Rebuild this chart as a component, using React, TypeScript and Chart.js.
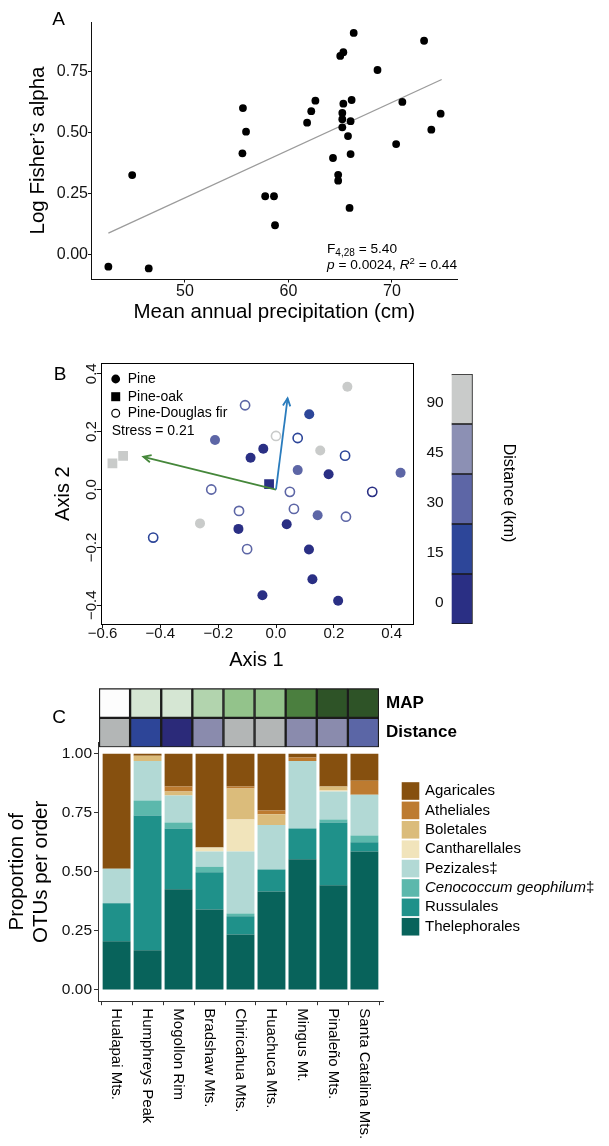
import React, { useEffect, useRef } from 'react';
import { Chart, registerables } from 'chart.js';

Chart.register(...registerables);

const FONT = '"Liberation Sans", Arial, Helvetica, sans-serif';
Chart.defaults.font.family = FONT;
Chart.defaults.color = '#111';

// ---------------- Panel A ----------------
const A_PRECIP = [66.3, 73.1, 65.3, 65.0, 68.6, 55.6, 62.6, 62.2, 65.3, 66.1, 71.0, 74.7, 65.2, 65.2, 61.8, 66.0, 65.2, 55.9, 73.8, 65.75, 70.4, 55.55, 64.3, 66.0, 44.9, 64.8, 64.8, 57.75, 58.6, 65.9, 58.7, 42.6, 46.5];
const A_LOG_ALPHA = [0.909, 0.877, 0.83, 0.815, 0.757, 0.601, 0.631, 0.588, 0.619, 0.634, 0.626, 0.578, 0.581, 0.555, 0.541, 0.547, 0.522, 0.504, 0.512, 0.486, 0.453, 0.415, 0.396, 0.412, 0.326, 0.327, 0.303, 0.239, 0.239, 0.191, 0.12, -0.05, -0.057];
const A_FIT_PRECIP = [42.6, 74.8];
const A_FIT_ALPHA = [0.088, 0.718];
const A_X_TICKS = [50, 60, 70];
const A_Y_TICKS = [0, 0.25, 0.5, 0.75];
const A_F_DF = '4,28';
const A_F_VALUE = '5.40';
const A_P_VALUE = '0.0024';
const A_R2 = '0.44';

// ---------------- Panel B ----------------
const B_AXIS1 = [0.247, -0.107, 0.115, -0.211, 0.0, 0.075, -0.044, -0.088, 0.153, 0.239, 0.075, 0.182, 0.431, -0.224, -0.024, 0.048, 0.333, -0.566, -0.529, -0.128, 0.062, 0.144, 0.242, -0.263, -0.13, 0.037, -0.425, -0.1, 0.114, 0.126, -0.047, 0.215];
const B_AXIS2 = [0.355, 0.291, 0.26, 0.171, 0.185, 0.178, 0.141, 0.11, 0.135, 0.117, 0.067, 0.053, 0.058, 0.0, 0.019, -0.008, -0.008, 0.09, 0.116, -0.074, -0.067, -0.089, -0.094, -0.117, -0.136, -0.12, -0.166, -0.206, -0.207, -0.31, -0.365, -0.384];
// 0 = Pine, 1 = Pine-oak, 2 = Pine-Douglas fir
const B_FOREST = [0, 2, 0, 0, 2, 2, 0, 0, 0, 2, 0, 0, 0, 2, 1, 2, 2, 1, 1, 2, 2, 0, 2, 0, 0, 0, 2, 2, 0, 0, 0, 0];
// index into DIST_LABELS
const B_DIST = [4, 2, 1, 2, 4, 1, 0, 0, 4, 1, 2, 0, 2, 2, 0, 2, 0, 4, 4, 2, 2, 2, 2, 4, 0, 0, 1, 2, 0, 0, 0, 0];
const FOREST_TYPES = ['Pine', 'Pine-oak', 'Pine-Douglas fir'];
const DIST_LABELS = ['0', '15', '30', '45', '90'];
const DIST_COLORS = ['#2a2f84', '#2d4699', '#5d66a6', '#8c90b4', '#c9cbca'];
const B_ARROW_AXIS1 = [0.04, -0.459];
const B_ARROW_AXIS2 = [0.315, 0.113];
const B_ARROW_COLORS = ['#2a7cbd', '#45873a'];
const B_X_TICKS = [-0.6, -0.4, -0.2, 0, 0.2, 0.4];
const B_Y_TICKS = [-0.4, -0.2, 0, 0.2, 0.4];
const B_STRESS = '0.21';

// ---------------- Panel C ----------------
const SITES = ['Hualapai Mts.', 'Humphreys Peak', 'Mogollon Rim', 'Bradshaw Mts.', 'Chiricahua Mts.', 'Huachuca Mts.', 'Mingus Mt.', 'Pinaleño Mts.', 'Santa Catalina Mts.'];
const MAP_COLORS = ['#fdfdfd', '#d5e6d3', '#d5e6d3', '#b2d4ae', '#93c38b', '#93c38b', '#4b7f3f', '#2e5327', '#2e5327'];
const DIST_STRIP_COLORS = ['#b3b6b6', '#2d4598', '#2b2a79', '#8a8bad', '#b3b6b6', '#b3b6b6', '#8a8bad', '#8a8bad', '#5b66a6'];
const STRIP_ROWS = ['Distance', 'MAP'];
const ORDERS = ['Agaricales', 'Atheliales', 'Boletales', 'Cantharellales', 'Pezizales‡', 'Cenococcum geophilum‡', 'Russulales', 'Thelephorales'];
const ORDER_COLORS = ['#86500f', '#bd7b30', '#dbbc7b', '#f1e4bb', '#b2d9d5', '#5cb8ac', '#1f918a', '#08635b'];
const AGARICALES = [0.487, 0.008, 0.139, 0.397, 0.139, 0.24, 0.016, 0.139, 0.114];
const ATHELIALES = [0, 0, 0.021, 0, 0.008, 0.016, 0.014, 0, 0.059];
const BOLETALES = [0, 0.022, 0.017, 0, 0.131, 0.046, 0, 0.016, 0];
const CANTHARELLALES = [0, 0, 0, 0.017, 0.136, 0, 0, 0.005, 0];
const PEZIZALES = [0.146, 0.168, 0.114, 0.064, 0.262, 0.188, 0.286, 0.118, 0.173];
const CENOCOCCUM = [0, 0.063, 0.025, 0.024, 0.012, 0, 0, 0.013, 0.029];
const RUSSULALES = [0.161, 0.571, 0.258, 0.157, 0.077, 0.093, 0.131, 0.266, 0.039];
const THELEPHORALES = [0.206, 0.168, 0.426, 0.341, 0.235, 0.417, 0.553, 0.443, 0.586];
const ORDER_VALUES = [AGARICALES, ATHELIALES, BOLETALES, CANTHARELLALES, PEZIZALES, CENOCOCCUM, RUSSULALES, THELEPHORALES];
const C_Y_TICKS = [0, 0.25, 0.5, 0.75, 1];

// ---------------- helpers ----------------
const common = {
  responsive: false,
  animation: false,
  devicePixelRatio: 1,
  events: [],
};
const noPlugins = { legend: { display: false }, tooltip: { enabled: false } };
const fixW = (w: number) => (s: any) => { s.width = w; s.paddingTop = 0; s.paddingBottom = 0; s.paddingLeft = 0; s.paddingRight = 0; };
const fixH = (h: number) => (s: any) => { s.height = h; s.paddingTop = 0; s.paddingBottom = 0; s.paddingLeft = 0; s.paddingRight = 0; };
const setTicks = (vals: number[]) => (s: any) => { s.ticks = vals.map((v) => ({ value: v })); };

type TOpt = { align?: CanvasTextAlign; baseline?: CanvasTextBaseline; rot?: number; weight?: string; italic?: boolean; color?: string };
function drawText(ctx: CanvasRenderingContext2D, s: string, x: number, y: number, size: number, o: TOpt = {}) {
  ctx.save();
  ctx.font = `${o.italic ? 'italic ' : ''}${o.weight || 'normal'} ${size}px ${FONT}`;
  ctx.fillStyle = o.color || '#000';
  ctx.textAlign = o.align || 'center';
  ctx.textBaseline = o.baseline || 'middle';
  ctx.translate(x, y);
  if (o.rot) ctx.rotate(o.rot);
  ctx.fillText(s, 0, 0);
  ctx.restore();
}
// runs: [text, size, italic, dy]
function drawRuns(ctx: CanvasRenderingContext2D, x: number, y: number, runs: [string, number, boolean, number][]) {
  ctx.save();
  ctx.fillStyle = '#000';
  ctx.textAlign = 'left';
  ctx.textBaseline = 'alphabetic';
  let cx = x;
  for (const [t, size, it, dy] of runs) {
    ctx.font = `${it ? 'italic ' : ''}${size}px ${FONT}`;
    ctx.fillText(t, cx, y + dy);
    cx += ctx.measureText(t).width;
  }
  ctx.restore();
}

const fmtB = (v: number) => (Math.abs(v) < 1e-9 ? '0.0' : (v < 0 ? '\u2212' : '') + Math.abs(v).toFixed(1));

// ---------------- Panel A ----------------
function makeA(): any {
  return {
    type: 'scatter',
    data: {
      datasets: [
        { label: 'sites', data: A_PRECIP.map((x, i) => ({ x, y: A_LOG_ALPHA[i] })), pointRadius: 3.9, pointBackgroundColor: '#000', pointBorderWidth: 0 },
        { label: 'fit', data: A_FIT_PRECIP.map((x, i) => ({ x, y: A_FIT_ALPHA[i] })), showLine: true, borderColor: '#9b9b9b', borderWidth: 1.3, pointRadius: 0 },
      ],
    },
    options: {
      ...common,
      layout: { autoPadding: false, padding: { left: 0, top: 22, right: 152, bottom: 0 } },
      plugins: noPlugins,
      scales: {
        x: {
          type: 'linear', min: 40.97, max: 76.28,
          afterBuildTicks: setTicks(A_X_TICKS), afterFit: fixH(51),
          ticks: { font: { size: 16 }, color: '#111', padding: -1, callback: (v: number) => String(v) },
          grid: { drawOnChartArea: false, tickLength: 3.5, color: '#111' },
          border: { color: '#111', width: 1 },
        },
        y: {
          type: 'linear', min: -0.1005, max: 0.954,
          afterBuildTicks: setTicks(A_Y_TICKS), afterFit: fixW(91.5),
          ticks: { font: { size: 16 }, color: '#111', padding: 0, callback: (v: number) => v.toFixed(2) },
          grid: { drawOnChartArea: false, tickLength: 3.5, color: '#111' },
          border: { color: '#111', width: 1 },
        },
      },
    },
    plugins: [{
      id: 'aText',
      afterDraw(chart: any) {
        const ctx = chart.ctx as CanvasRenderingContext2D;
        const ca = chart.chartArea;
        drawText(ctx, 'A', 58.5, 19.5, 19);
        drawText(ctx, 'Log Fisher\u2019s alpha', 38, (ca.top + ca.bottom) / 2, 20.5, { rot: -Math.PI / 2 });
        drawText(ctx, 'Mean annual precipitation (cm)', (ca.left + ca.right) / 2, 312, 20.5);
        drawRuns(ctx, 327, 252.5, [['F', 13.7, false, 0], [A_F_DF, 10, false, 3], [' = ' + A_F_VALUE, 13.7, false, 0]]);
        drawRuns(ctx, 327, 269.3, [['p', 13.7, true, 0], [' = ' + A_P_VALUE + ', ', 13.7, false, 0], ['R', 13.7, true, 0], ['2', 9.5, false, -5.5], [' = ' + A_R2, 13.7, false, 0]]);
      },
    }],
  };
}

// ---------------- Panel B ----------------
const FOREST_MARKERS = [
  { style: 'circle', radius: 5, filled: true },
  { style: 'rect', radius: 6.9, filled: true },
  { style: 'circle', radius: 4.6, filled: false },
];

function makeB(): any {
  const arrows = B_ARROW_AXIS1.map((ax, i) => ({
    label: 'arrow' + i,
    data: [{ x: 0, y: 0 }, { x: ax, y: B_ARROW_AXIS2[i] }],
    showLine: true, borderColor: B_ARROW_COLORS[i], borderWidth: 1.8, pointRadius: 0,
  }));
  const points = FOREST_TYPES.map((name, f) => {
    const idx = B_AXIS1.map((_, i) => i).filter((i) => B_FOREST[i] === f);
    const cols = idx.map((i) => DIST_COLORS[B_DIST[i]]);
    const st = FOREST_MARKERS[f];
    return {
      label: name,
      data: idx.map((i) => ({ x: B_AXIS1[i], y: B_AXIS2[i] })),
      pointStyle: st.style,
      pointRadius: st.radius,
      pointBackgroundColor: st.filled ? cols : 'rgba(255,255,255,0)',
      pointBorderColor: cols,
      pointBorderWidth: st.filled ? 0 : 1.6,
    };
  });
  return {
    type: 'scatter',
    data: { datasets: [...arrows, ...points] },
    options: {
      ...common,
      layout: { autoPadding: false, padding: { left: 0, top: 33.3, right: 27.7, bottom: 0 } },
      plugins: noPlugins,
      scales: {
        x: {
          type: 'linear', min: -0.6066, max: 0.4716,
          afterBuildTicks: setTicks(B_X_TICKS), afterFit: fixH(56),
          ticks: { font: { size: 15 }, color: '#111', padding: -3, callback: (v: number) => fmtB(v) },
          grid: { drawOnChartArea: false, tickLength: 4, color: '#111' },
          border: { display: false },
        },
        y: {
          type: 'linear', min: -0.4646, max: 0.436,
          afterBuildTicks: setTicks(B_Y_TICKS), afterFit: fixW(100.7),
          ticks: { display: false },
          grid: { drawOnChartArea: false, tickLength: 4, color: '#111' },
          border: { display: false },
        },
      },
    },
    plugins: [{
      id: 'bDecor',
      afterDatasetsDraw(chart: any) {
        const ctx = chart.ctx as CanvasRenderingContext2D;
        B_ARROW_AXIS1.forEach((_, i) => {
          const meta = chart.getDatasetMeta(i);
          const p0 = meta.data[0];
          const p1 = meta.data[1];
          const ang = Math.atan2(p1.y - p0.y, p1.x - p0.x);
          const len = 8.5;
          const spread = 0.45;
          ctx.save();
          ctx.strokeStyle = B_ARROW_COLORS[i];
          ctx.lineWidth = 1.8;
          ctx.beginPath();
          ctx.moveTo(p1.x - len * Math.cos(ang - spread), p1.y - len * Math.sin(ang - spread));
          ctx.lineTo(p1.x, p1.y);
          ctx.lineTo(p1.x - len * Math.cos(ang + spread), p1.y - len * Math.sin(ang + spread));
          ctx.stroke();
          ctx.restore();
        });
      },
      afterDraw(chart: any) {
        const ctx = chart.ctx as CanvasRenderingContext2D;
        const ca = chart.chartArea;
        ctx.save();
        ctx.strokeStyle = '#000';
        ctx.lineWidth = 1;
        ctx.strokeRect(Math.round(ca.left) + 0.5, Math.round(ca.top) + 0.5, Math.round(ca.right - ca.left), Math.round(ca.bottom - ca.top));
        ctx.restore();
        const ys = chart.scales.y;
        ys.ticks.forEach((t: any) => {
          drawText(ctx, fmtB(t.value), 91.5, ys.getPixelForValue(t.value), 15, { rot: -Math.PI / 2, color: '#111' });
        });
        drawText(ctx, 'B', 60, 45, 19);
        drawText(ctx, 'Axis 1', (ca.left + ca.right) / 2, 330, 20);
        drawText(ctx, 'Axis 2', 63, (ca.top + ca.bottom) / 2, 20, { rot: -Math.PI / 2 });
        // legend
        const lx = 115.7;
        const rows = [49, 66.7, 83.3];
        ctx.save();
        ctx.fillStyle = '#000';
        ctx.strokeStyle = '#000';
        ctx.beginPath(); ctx.arc(lx, rows[0], 4.4, 0, Math.PI * 2); ctx.fill();
        ctx.fillRect(lx - 4.5, rows[1] - 4.5, 9, 9);
        ctx.lineWidth = 1.2;
        ctx.beginPath(); ctx.arc(lx, rows[2], 3.9, 0, Math.PI * 2); ctx.stroke();
        ctx.restore();
        FOREST_TYPES.forEach((name, i) => drawText(ctx, name, 127.7, rows[i], 14, { align: 'left' }));
        drawText(ctx, 'Stress = ' + B_STRESS, 111.7, 100.7, 14, { align: 'left' });
      },
    }],
  };
}

function makeColorbar(): any {
  return {
    type: 'bar',
    data: {
      labels: ['Distance (km)'],
      datasets: DIST_LABELS.map((lab, i) => ({
        label: lab,
        data: [[i, i + 1]],
        backgroundColor: DIST_COLORS[i],
        borderColor: '#1a1a1a',
        borderWidth: 1,
        borderSkipped: false,
        grouped: false,
        barPercentage: 1,
        categoryPercentage: 1,
      })),
    },
    options: {
      ...common,
      layout: { autoPadding: false, padding: { left: 0, top: 44, right: 115.7, bottom: 56 } },
      plugins: noPlugins,
      scales: {
        x: { display: false, offset: false },
        y: {
          type: 'linear', min: 0, max: DIST_LABELS.length,
          afterBuildTicks: setTicks(DIST_LABELS.map((_, i) => i + 0.5)), afterFit: fixW(51.7),
          ticks: { font: { size: 15.5 }, color: '#111', padding: 8, labelOffset: 4, callback: (v: number) => DIST_LABELS[Math.round(v - 0.5)] },
          grid: { display: false, drawTicks: false },
          border: { display: false },
        },
      },
    },
    plugins: [{
      id: 'cbTitle',
      afterDraw(chart: any) {
        drawText(chart.ctx, 'Distance (km)', 108, 163, 16, { rot: Math.PI / 2 });
      },
    }],
  };
}

// ---------------- Panel C ----------------
function makeStrips(): any {
  return {
    type: 'bar',
    data: {
      labels: SITES,
      datasets: [
        { label: 'MAP', data: SITES.map(() => [1, 2]), backgroundColor: MAP_COLORS },
        { label: 'Distance', data: SITES.map(() => [0, 1]), backgroundColor: DIST_STRIP_COLORS },
      ].map((d) => ({ ...d, borderColor: '#1c1c1c', borderWidth: 1.5, borderSkipped: false, grouped: false, barPercentage: 1, categoryPercentage: 1 })),
    },
    options: {
      ...common,
      layout: { autoPadding: false, padding: { left: 99, top: 8.3, right: 0, bottom: 4.7 } },
      plugins: noPlugins,
      scales: {
        x: { display: false, offset: true },
        y: {
          type: 'linear', position: 'right', min: 0, max: STRIP_ROWS.length,
          afterBuildTicks: setTicks(STRIP_ROWS.map((_, i) => i + 0.5)), afterFit: fixW(230),
          ticks: { font: { size: 17, weight: 'bold' }, color: '#000', padding: 7, callback: (v: number) => STRIP_ROWS[Math.round(v - 0.5)] },
          grid: { display: false, drawTicks: false },
          border: { display: false },
        },
      },
    },
    plugins: [{
      id: 'cLetter',
      afterDraw(chart: any) {
        drawText(chart.ctx, 'C', 59, 38, 19);
      },
    }],
  };
}

function makeC(): any {
  const datasets = ORDERS.map((name, k) => ({
    label: name,
    data: ORDER_VALUES[k].map((v, i) => ({ x: i + 1, y: v })),
    backgroundColor: ORDER_COLORS[k],
    borderWidth: 0,
    barPercentage: 0.9,
    categoryPercentage: 1,
  })).reverse();
  return {
    type: 'bar',
    data: { datasets },
    options: {
      ...common,
      layout: { autoPadding: false, padding: { left: 0, top: 2, right: 226, bottom: 0 } },
      plugins: noPlugins,
      scales: {
        x: {
          type: 'linear', min: 0.4, max: SITES.length + 0.6, stacked: true, offset: false,
          afterBuildTicks: setTicks(SITES.map((_, i) => i + 1)), afterFit: fixH(144.3),
          ticks: { display: false },
          grid: { drawOnChartArea: false, tickLength: 3.5, color: '#333' },
          border: { color: '#333', width: 1 },
        },
        y: {
          type: 'linear', min: -0.05, max: 1.05, stacked: true,
          afterBuildTicks: setTicks(C_Y_TICKS), afterFit: fixW(98),
          ticks: { font: { size: 15.5 }, color: '#111', padding: 2, callback: (v: number) => v.toFixed(2) },
          grid: { drawOnChartArea: false, tickLength: 4, color: '#333' },
          border: { color: '#333', width: 1 },
        },
      },
    },
    plugins: [{
      id: 'cDecor',
      afterDraw(chart: any) {
        const ctx = chart.ctx as CanvasRenderingContext2D;
        const ca = chart.chartArea;
        const xs = chart.scales.x;
        SITES.forEach((s, i) => {
          drawText(ctx, s, xs.getPixelForValue(i + 1), 268.3, 15, { rot: Math.PI / 2, align: 'left' });
        });
        const cy = (ca.top + ca.bottom) / 2;
        drawText(ctx, 'Proportion of', 17.5, cy, 20.5, { rot: -Math.PI / 2 });
        drawText(ctx, 'OTUs per order', 41.7, cy, 20.5, { rot: -Math.PI / 2 });
        // legend
        ORDERS.forEach((name, i) => {
          const yc = 51 + i * 19.39;
          ctx.save();
          ctx.fillStyle = ORDER_COLORS[i];
          ctx.fillRect(401.7, yc - 8.8, 17.6, 17.6);
          ctx.restore();
          const m = name.match(/^(Cenococcum geophilum)(.*)$/);
          if (m) {
            ctx.save();
            ctx.font = `italic 15px ${FONT}`;
            const w = ctx.measureText(m[1]).width;
            ctx.restore();
            drawText(ctx, m[1], 425, yc, 15, { align: 'left', italic: true });
            drawText(ctx, m[2], 425 + w, yc, 15, { align: 'left' });
          } else {
            drawText(ctx, name, 425, yc, 15, { align: 'left' });
          }
        });
      },
    }],
  };
}

function ChartCanvas({ left, top, width, height, make }: { left: number; top: number; width: number; height: number; make: () => any }) {
  const ref = useRef<HTMLCanvasElement>(null);
  useEffect(() => {
    const chart = new Chart(ref.current as HTMLCanvasElement, make());
    return () => chart.destroy();
  }, []);
  return <canvas ref={ref} width={width} height={height} style={{ position: 'absolute', left, top, width, height }} />;
}

export default function App() {
  return (
    <div style={{ position: 'absolute', left: 0, top: 0, width: 609, height: 1146, background: '#fff', overflow: 'hidden' }}>
      <ChartCanvas left={0} top={0} width={609} height={330} make={makeA} />
      <ChartCanvas left={0} top={330} width={440} height={350} make={makeB} />
      <ChartCanvas left={400} top={330} width={209} height={350} make={makeColorbar} />
      <ChartCanvas left={0} top={680} width={609} height={72} make={makeStrips} />
      <ChartCanvas left={0} top={740} width={609} height={406} make={makeC} />
    </div>
  );
}
